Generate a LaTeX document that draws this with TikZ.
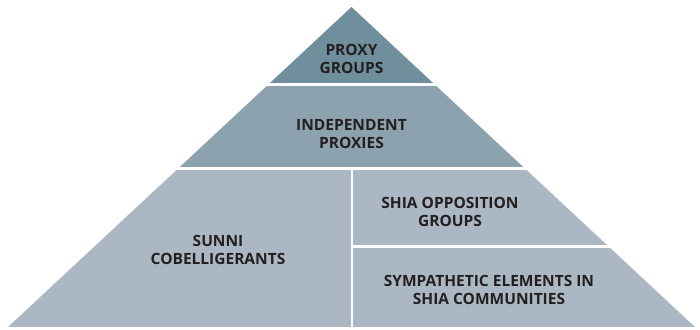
\documentclass[tikz,border=0pt]{standalone}
\usepackage{fontspec}
\setmainfont{Open Sans}
\definecolor{topc}{HTML}{6F8F9C}
\definecolor{midc}{HTML}{8CA2AF}
\definecolor{lowc}{HTML}{ABB8C4}
\definecolor{textc}{HTML}{231F20}
\tikzset{lbl/.style={text=textc,align=center,inner sep=0pt,font=\bfseries\fontsize{15.5}{18.5}\selectfont}}
\begin{document}
\begin{tikzpicture}[x=1pt,y=-1pt]
\useasboundingbox (0,0) rectangle (700,329);
\begin{scope}
\clip (351.5,7) -- (695,327) -- (8,327) -- cycle;
\fill[topc] (0,0) rectangle (700,83);
\fill[midc] (0,85.5) rectangle (700,167);
\fill[lowc] (0,169.5) rectangle (350.5,327);
\fill[lowc] (353,169.5) rectangle (700,245);
\fill[lowc] (353,247.5) rectangle (700,327);
\end{scope}
\node[lbl] (proxy) at (351.5,59) {PROXY\\GROUPS};
\node[lbl] (indep) at (351.5,134) {INDEPENDENT\\PROXIES};
\node[lbl] (sunni) at (218,250) {SUNNI\\COBELLIGERANTS};
\node[lbl] (shia) at (450,212) {SHIA OPPOSITION\\GROUPS};
\node[lbl] (symp) at (489,290) {SYMPATHETIC ELEMENTS IN\\SHIA COMMUNITIES};
\end{tikzpicture}
\end{document}
